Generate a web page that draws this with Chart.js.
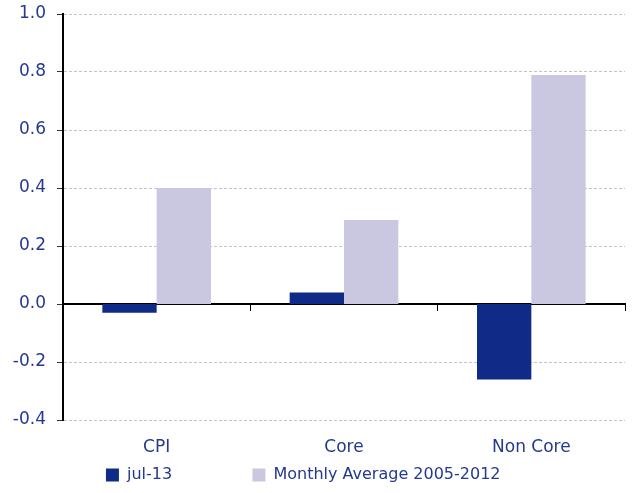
<!DOCTYPE html>
<html>
<head>
<meta charset="utf-8">
<script src="https://cdn.jsdelivr.net/npm/chart.js@4/dist/chart.umd.min.js"></script>
<style>
  html, body { margin: 0; padding: 0; background: #fff; }
  #wrap { width: 634px; height: 493px; }
</style>
</head>
<body>
<div id="wrap"><canvas id="myChart" width="634" height="493"></canvas></div>
<script>
// data
const categories = ['CPI', 'Core', 'Non Core'];
const jul13 = [-0.03, 0.04, -0.26];
const monthlyAvg = [0.40, 0.29, 0.79];
const seriesNames = ['jul-13', 'Monthly Average 2005-2012'];

const textBlue = '#24398f';
const font = 'DejaVu Sans';

window.addEventListener('load', setup);

function setup() {
    const ctx = document.getElementById('myChart').getContext('2d');
    new Chart(ctx, {
        type: 'bar',
        data: {
            labels: categories,
            datasets: [{
                label: seriesNames[0],
                data: jul13,
                backgroundColor: '#0f2a87',
                borderWidth: 0,
                categoryPercentage: 0.58,
                barPercentage: 1.0
            }, {
                label: seriesNames[1],
                data: monthlyAvg,
                backgroundColor: '#c9c8e0',
                borderWidth: 0,
                categoryPercentage: 0.58,
                barPercentage: 1.0
            }]
        },
        options: {
            responsive: false,
            animation: false,
            layout: { padding: { left: 12, right: 9, top: 0, bottom: 0 } },
            plugins: {
                tooltip: { enabled: false },
                legend: {
                    position: 'bottom',
                    labels: {
                        color: textBlue,
                        font: { family: font, size: 16 },
                        boxWidth: 13,
                        boxHeight: 13,
                        padding: 4,
                        generateLabels: (chart) => {
                            const items = Chart.defaults.plugins.legend.labels.generateLabels(chart);
                            // wide gap between the two entries as in the original
                            items[0].text = items[0].text + '\u00a0'.repeat(15);
                            items[1].text = items[1].text + '\u00a0'.repeat(6);
                            items.forEach(it => { it.lineWidth = 0; });
                            return items;
                        }
                    }
                }
            },
            scales: {
                x: {
                    grid: { display: false, drawTicks: false },
                    border: { display: false },
                    ticks: {
                        color: textBlue,
                        font: { family: font, size: 17 },
                        padding: 17
                    },
                    afterFit: (s) => { s.height = 43; }
                },
                x2: {
                    type: 'category',
                    position: { y: 0 },
                    offset: true,
                    z: 1,
                    grid: {
                        offset: true,
                        drawOnChartArea: false,
                        tickLength: 6,
                        color: '#000',
                        lineWidth: 1
                    },
                    border: { color: '#000', width: 2 },
                    ticks: { display: false },
                    afterFit: (s) => { s.height = 0; }
                },
                y: {
                    min: -0.4,
                    max: 1.0,
                    ticks: {
                        stepSize: 0.2,
                        color: textBlue,
                        font: { family: font, size: 17 },
                        padding: 11,
                        callback: (v) => (Math.abs(v) < 1e-9 ? 0 : v).toFixed(1)
                    },
                    grid: {
                        color: '#c4c4c4',
                        lineWidth: 1,
                        tickLength: 6,
                        tickColor: '#333',
                        tickBorderDash: []
                    },
                    border: { color: '#000', width: 2, dash: [3, 2] },
                    afterFit: (s) => { s.width = 51; s.paddingTop = 14; }
                }
            }
        }
    });
}
</script>
</body>
</html>
